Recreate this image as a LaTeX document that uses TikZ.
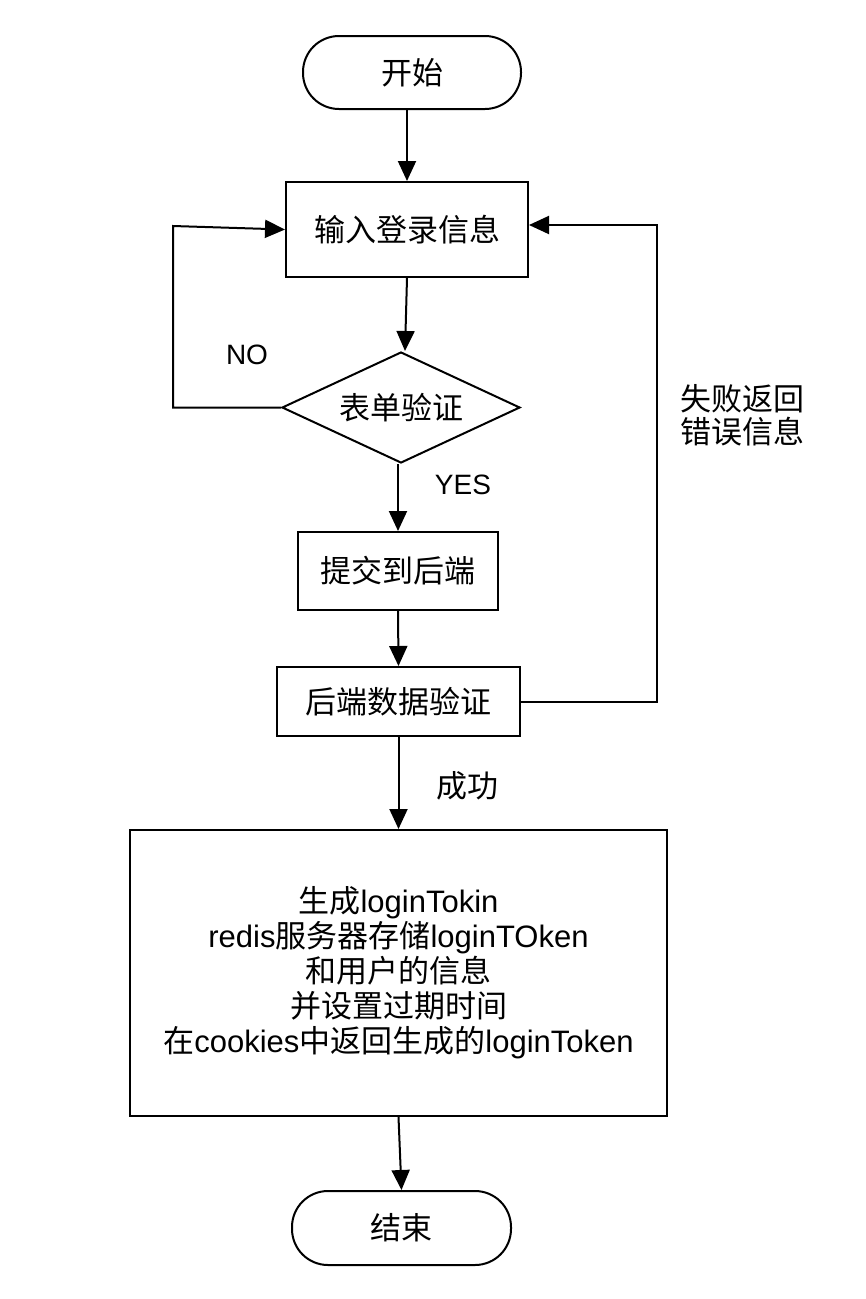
\documentclass[tikz,border=0pt]{standalone}
\usepackage{fontspec}
\setmainfont{Liberation Sans}
\newfontfamily\cjk{Noto Sans CJK SC}
\usetikzlibrary{arrows.meta,shapes.geometric}
\begin{document}
\begin{tikzpicture}[x=1pt,y=-1pt,
  every node/.style={font=\fontsize{31}{35}\selectfont},
  termbox/.style={draw,line width=2pt,rounded corners=36pt,minimum width=218pt,minimum height=73pt,inner sep=0pt},
  procbox/.style={draw,line width=2pt,inner sep=0pt,align=center},
  decbox/.style={draw,line width=2pt,diamond,aspect=2.14,inner sep=0pt,minimum width=238pt,minimum height=111pt},
  lbl/.style={inner sep=0pt,align=center},
  arr/.style={line width=2pt,-{Triangle[length=20pt,width=18pt]}},
  ln/.style={line width=2pt}]
\useasboundingbox (0,0) rectangle (866,1299);
\fill[white] (0,0) rectangle (866,1299);
\node[termbox] (start) at (412,72.5) {\cjk 开始};
\node[procbox,minimum width=242pt,minimum height=95pt] (input) at (407,229.5) {\cjk 输入登录信息};
\node[decbox] (form) at (401,407.5) {\cjk 表单验证};
\node[procbox,minimum width=200pt,minimum height=78pt] (submit) at (398,571) {\cjk 提交到后端};
\node[procbox,minimum width=243pt,minimum height=69pt] (backend) at (398.5,701.5) {\cjk 后端数据验证};
\node[procbox,minimum width=537pt,minimum height=286pt] (gen) at (398.5,973) {{\cjk 生成}loginTokin\\redis{\cjk 服务器存储}loginTOken\\{\cjk 和用户的信息}\\{\cjk 并设置过期时间}\\{\cjk 在}cookies{\cjk 中返回生成的}loginToken};
\node[termbox,minimum width=219pt,minimum height=74pt] (end) at (401.5,1228) {\cjk 结束};
\coordinate (nl1) at (173,407.5);
\coordinate (nl2) at (173,226);
\coordinate (fr1) at (657,701.5);
\coordinate (fr2) at (657,225);
\node[lbl,font=\fontsize{28}{34}\selectfont] (no) at (247,355) {NO};
\node[lbl,font=\fontsize{28}{34}\selectfont] (yes) at (463,485) {YES};
\node[lbl] (ok) at (467,786) {\cjk 成功};
\node[lbl,font=\fontsize{31}{33}\selectfont\cjk] (fail) at (742,415) {失败返回\\错误信息};
\draw[arr] (start.south -| input.north) -- (input.north);
\draw[arr] (input.south) -- ([xshift=-2pt]input.south |- form.north);
\draw[arr] (form.south -| submit.north) -- (submit.north);
\draw[arr] (submit.south) -- (backend.north);
\draw[arr] (backend.south) -- (gen.north);
\draw[arr] (gen.south) -- (end.north);
\draw[arr] (form.west) -- (nl1) -- (nl2) -- (input.west);
\draw[arr] (backend.east) -- (fr1) -- (fr2) -- (input.east |- fr2);
\end{tikzpicture}
\end{document}
